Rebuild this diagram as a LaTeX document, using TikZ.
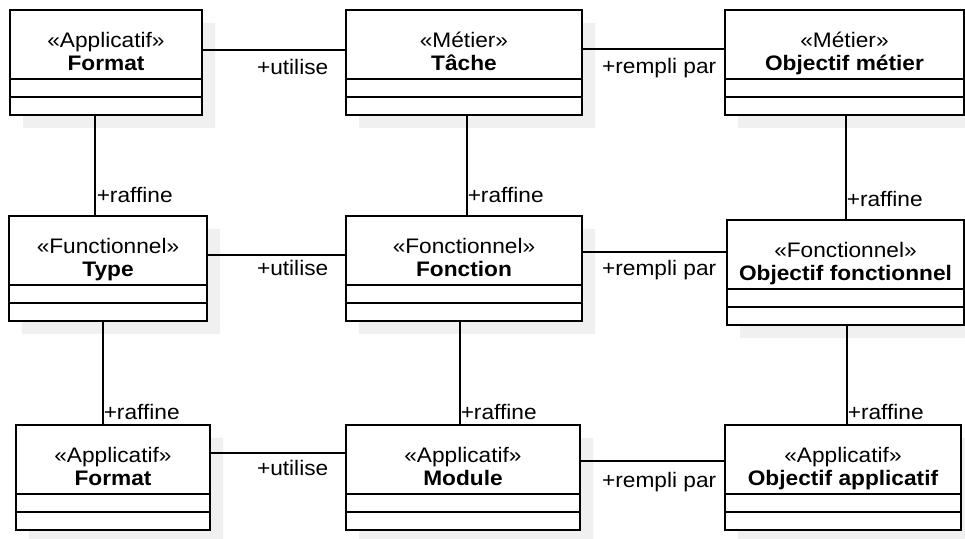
\documentclass[tikz,border=0pt]{standalone}
\usepackage{fontspec}
\setmainfont{Liberation Sans}[FakeStretch=1.08]
\usetikzlibrary{shapes.multipart,shadows}
\newcommand{\umlhead}[2]{\begin{tabular}{@{}c@{}}\rule{0pt}{18.5pt}#1\\\textbf{#2}\rule[-3pt]{0pt}{0pt}\end{tabular}}

\begin{document}
\begin{tikzpicture}
		[x=0.5pt, y=-0.5pt,
		every node/.style={font=\fontsize{10.5}{11.5}\selectfont},
		class/.style ={rectangle split, rectangle split parts=3, anchor=north, draw=black, line width=1pt, fill=white, inner xsep=2pt, inner ysep=0pt, rectangle split empty part height=8pt, rectangle split empty part depth=0pt, drop shadow={shadow xshift=6.5pt, shadow yshift=-6.5pt, fill=black!6, opacity=1}},
		link/.style ={line width=0.75pt},
		role/.style ={anchor=north east, inner sep=0pt, pos=1},
		refine/.style ={anchor=south west, inner sep=0pt, pos=1},
		]
		\useasboundingbox (0,0) rectangle (965,539);

		\draw (106,9) node[class, minimum width=96pt] (F1) {\umlhead{«Applicatif»}{Format}\nodepart{two}\nodepart{three}};
		\draw (464,9) node[class, minimum width=118pt] (T) {\umlhead{«Métier»}{Tâche}\nodepart{two}\nodepart{three}};
		\draw (844.5,9) node[class, minimum width=119.5pt] (OM) {\umlhead{«Métier»}{Objectif métier}\nodepart{two}\nodepart{three}};
		\draw (108,215) node[class, minimum width=99pt] (Ty) {\umlhead{«Functionnel»}{Type}\nodepart{two}\nodepart{three}};
		\draw (464,215) node[class, minimum width=118pt] (Fn) {\umlhead{«Fonctionnel»}{Fonction}\nodepart{two}\nodepart{three}};
		\draw (845.5,219) node[class, minimum width=118.5pt] (OF) {\umlhead{«Fonctionnel»}{Objectif fonctionnel}\nodepart{two}\nodepart{three}};
		\draw (113,424) node[class, minimum width=97pt] (F3) {\umlhead{«Applicatif»}{Format}\nodepart{two}\nodepart{three}};
		\draw (463,424) node[class, minimum width=117pt] (Mo) {\umlhead{«Applicatif»}{Module}\nodepart{two}\nodepart{three}};
		\draw (843,424) node[class, minimum width=118pt] (OA) {\umlhead{«Applicatif»}{Objectif applicatif}\nodepart{two}\nodepart{three}};

		\path[link]
		(F1.east |- 0,50) edge node[role, xshift=-8pt, yshift=-4.5pt] {+utilise} (T.west |- 0,50)
		(T.east |- 0,49) edge node[role, xshift=-3.5pt, yshift=-4.5pt] {+rempli par} (OM.west |- 0,49)
		(Ty.east |- 0,255) edge node[role, xshift=-8pt, yshift=-2.5pt] {+utilise} (Fn.west |- 0,255)
		(Fn.east |- 0,252) edge node[role, xshift=-4.5pt, yshift=-4pt] {+rempli par} (OF.west |- 0,252)
		(F3.east |- 0,453) edge node[role, xshift=-8pt, yshift=-3.5pt] {+utilise} (Mo.west |- 0,453)
		(Mo.east |- 0,461) edge node[role, xshift=-3.5pt, yshift=-5.5pt] {+rempli par} (OA.west |- 0,461)
		(F1.south -| 95,0) edge node[refine, xshift=0.5pt, yshift=6pt] {+raffine} (Ty.north -| 95,0)
		(T.south -| 467,0) edge node[refine, xshift=0pt, yshift=6pt] {+raffine} (Fn.north -| 467,0)
		(OM.south -| 846,0) edge node[refine, xshift=0pt, yshift=6pt] {+raffine} (OF.north -| 846,0)
		(Ty.south -| 103,0) edge node[refine, xshift=0pt, yshift=2pt] {+raffine} (F3.north -| 103,0)
		(Fn.south -| 460,0) edge node[refine, xshift=0pt, yshift=2pt] {+raffine} (Mo.north -| 460,0)
		(OF.south -| 847,0) edge node[refine, xshift=0pt, yshift=2pt] {+raffine} (OA.north -| 847,0);
	\end{tikzpicture}
\end{document}
